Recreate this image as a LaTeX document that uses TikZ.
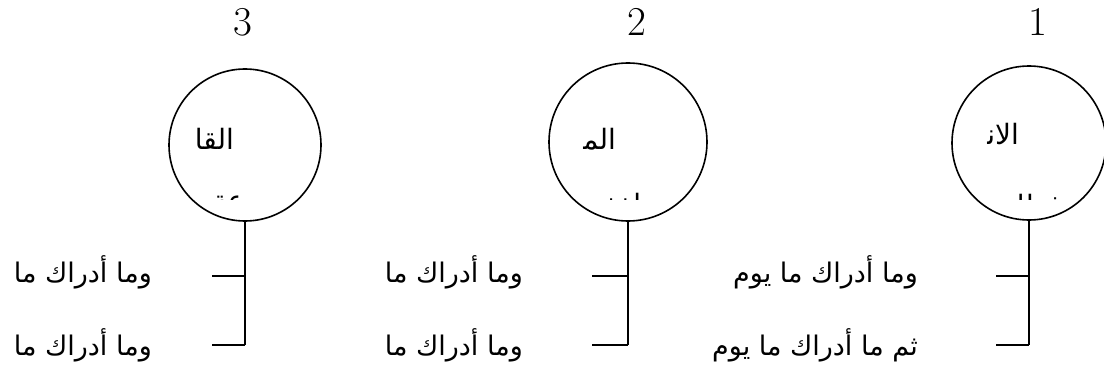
\documentclass[tikz,border=0pt]{standalone}
\usepackage{fontspec}
\newfontfamily\arabicfont[Script=Arabic]{DejaVu Sans}
\TeXXeTstate=1
\begin{document}
\begin{tikzpicture}[x=1pt,y=-1pt,
  ring/.style={draw,circle,line width=1.6pt,inner sep=0pt},
  conn/.style={line width=1.8pt},
  num/.style={inner sep=0pt,font=\fontsize{41}{41}\selectfont},
  artxt/.style={inner sep=0pt,anchor=east,font=\arabicfont\fontsize{27}{27}\selectfont},
  cirtxt/.style={inner sep=0pt,anchor=east,font=\arabicfont\fontsize{28}{28}\selectfont}]
\useasboundingbox (0,0) rectangle (1104,369);
% numbers
\node[num] (n3) at (243,22) {3};
\node[num] (n2) at (637,22) {2};
\node[num] (n1) at (1038,22) {1};
% circles
\node[ring,minimum size=152pt] (c3) at (245,145) {};
\node[ring,minimum size=158pt] (c2) at (628,142) {};
\node[ring,minimum size=154pt] (c1) at (1029,143) {};
% circle texts
\node[cirtxt] (t3) at (234,139) {\beginR القا\endR};
\node[cirtxt] (t2) at (616,139) {\beginR الم‍\endR};
\node[cirtxt] (t1) at (1019,134) {\beginR الان‍\endR};
\begin{scope}
\clip (100,180) rectangle (1104,199);
\node[cirtxt] (t3b) at (258,207) {\beginR رعة\endR};
\node[cirtxt] (t2b) at (655,207) {\beginR طففين\endR};
\node[cirtxt] (t1b) at (1062,208) {\beginR فطار\endR};
\end{scope}
% stems
\coordinate (e3) at (245,345);
\coordinate (e2) at (628,345);
\coordinate (e1) at (1029,345);
\draw[conn] (c3.south) -- (e3);
\draw[conn] (c2.south) -- (e2);
\draw[conn] (c1.south) -- (e1);
% ticks
\coordinate (a3) at (245,276); \coordinate (l3a) at (212,276); \coordinate (l3b) at (212,345);
\coordinate (a2) at (628,276); \coordinate (l2a) at (592,276); \coordinate (l2b) at (592,345);
\coordinate (a1) at (1029,276); \coordinate (l1a) at (996,276); \coordinate (l1b) at (996,345);
\draw[conn] (a3) -- (l3a);
\draw[conn] (e3) -- (l3b);
\draw[conn] (a2) -- (l2a);
\draw[conn] (e2) -- (l2b);
\draw[conn] (a1) -- (l1a);
\draw[conn] (e1) -- (l1b);
% side texts
\node[artxt] (x3a) at (152,272) {\beginR وما أدراك ما\endR};
\node[artxt] (x3b) at (152,345) {\beginR وما أدراك ما\endR};
\node[artxt] (x2a) at (523,272) {\beginR وما أدراك ما\endR};
\node[artxt] (x2b) at (523,345) {\beginR وما أدراك ما\endR};
\node[artxt] (x1a) at (918,272) {\beginR وما أدراك ما يوم\endR};
\node[artxt] (x1b) at (918,345) {\beginR ثم ما أدراك ما يوم\endR};
\begin{scope}
\clip (100,286) rectangle (220,293);
\node[artxt] (x3c) at (208,309) {\beginR القارعة\endR};
\end{scope}
\end{tikzpicture}
\end{document}
